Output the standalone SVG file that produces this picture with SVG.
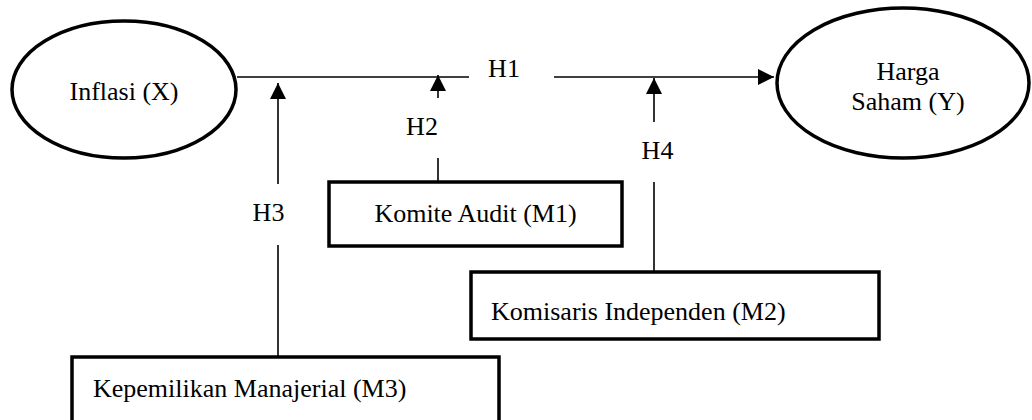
<svg xmlns="http://www.w3.org/2000/svg" width="1032" height="420" viewBox="0 0 1032 420">
<defs>
<marker id="ah" viewBox="0 0 16 16" refX="16" refY="8" markerWidth="16" markerHeight="16" markerUnits="userSpaceOnUse" orient="auto">
<path d="M0,0 L16,8 L0,16 Z" fill="#000"/>
</marker>
<style>
.t{font-family:"Liberation Serif","Times New Roman",serif;font-size:26px;fill:#000}
.m{text-anchor:middle}
.n{fill:#fff;stroke:#000;stroke-width:3.5}
.c{stroke:#000;stroke-width:1.6;fill:none}
</style>
</defs>
<rect width="1032" height="420" fill="#fff"/>
<g id="connectors">
<line class="c" x1="237" y1="77" x2="469" y2="77"/>
<line class="c" x1="554" y1="77" x2="774" y2="77" marker-end="url(#ah)"/>
<text class="t m" x="504" y="77">H1</text>
<line class="c" x1="438" y1="98" x2="438" y2="75" marker-end="url(#ah)"/>
<text class="t m" x="422" y="135">H2</text>
<line class="c" x1="438" y1="158" x2="438" y2="182"/>
<line class="c" x1="278" y1="184" x2="278" y2="83" marker-end="url(#ah)"/>
<text class="t m" x="268.5" y="221">H3</text>
<line class="c" x1="278" y1="245" x2="278" y2="357"/>
<line class="c" x1="654" y1="122" x2="654" y2="78" marker-end="url(#ah)"/>
<text class="t m" x="657.5" y="159">H4</text>
<line class="c" x1="654" y1="182" x2="654" y2="272"/>
</g>
<g id="inflasi">
<ellipse class="n" cx="124" cy="89.5" rx="112" ry="68.5"/>
<text class="t m" x="124" y="100">Inflasi (X)</text>
</g>
<g id="harga">
<ellipse class="n" cx="903" cy="83" rx="126" ry="75"/>
<text class="t m" x="908" y="80">Harga</text>
<text class="t m" x="908" y="110">Saham (Y)</text>
</g>
<g id="komite">
<rect class="n" x="329" y="182" width="293" height="64"/>
<text class="t m" x="475.5" y="222">Komite Audit (M1)</text>
</g>
<g id="komisaris">
<rect class="n" x="471" y="272" width="408" height="67"/>
<text class="t" x="491" y="320">Komisaris Independen (M2)</text>
</g>
<g id="kepemilikan">
<rect class="n" x="72" y="357" width="427" height="70"/>
<text class="t" x="93" y="397">Kepemilikan Manajerial (M3)</text>
</g>
</svg>
